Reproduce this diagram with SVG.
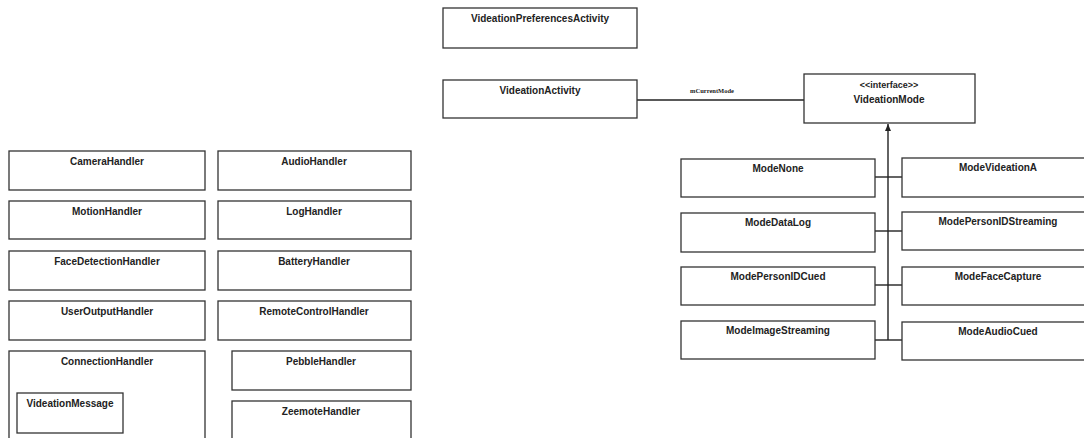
<svg xmlns="http://www.w3.org/2000/svg" width="1084" height="438" viewBox="0 0 1084 438">
<style>
.b{fill:#fff;stroke:#333;stroke-width:1.3}
.t{font-family:"Liberation Sans",Arial,sans-serif;font-weight:bold;font-size:10px;fill:#222;text-anchor:middle}
.s{font-size:9px}
.l{fill:none;stroke:#222;stroke-width:1.4}
.lb{font-family:"Liberation Serif","Times New Roman",serif;font-weight:bold;font-size:6.5px;fill:#222;text-anchor:middle}
</style>
<defs>
<marker id="ah" markerWidth="8" markerHeight="8" refX="7" refY="4" orient="auto" markerUnits="userSpaceOnUse">
<path d="M0,1 L7,4 L0,7 Z" fill="#222"/>
</marker>
</defs>
<rect width="1084" height="438" fill="#fff"/>
<g id="connectors">
<line class="l" x1="637" y1="100" x2="804" y2="100"/>
<text class="lb" x="712" y="93">mCurrentMode</text>
<line class="l" x1="888" y1="340" x2="888" y2="124" marker-end="url(#ah)"/>
<line class="l" x1="875" y1="177" x2="902" y2="177"/>
<line class="l" x1="875" y1="231" x2="902" y2="231"/>
<line class="l" x1="875" y1="285" x2="902" y2="285"/>
<line class="l" x1="875" y1="340" x2="902" y2="340"/>
</g>
<g id="VideationPreferencesActivity"><rect class="b" x="443" y="8" width="194" height="40"/><text class="t" x="540" y="22">VideationPreferencesActivity</text></g>
<g id="VideationActivity"><rect class="b" x="443" y="80" width="194" height="38"/><text class="t" x="540" y="94">VideationActivity</text></g>
<g id="VideationMode"><rect class="b" x="804" y="74" width="171" height="49"/><text class="t s" x="889" y="88">&lt;&lt;interface&gt;&gt;</text><text class="t" x="889" y="102.5">VideationMode</text></g>
<g id="CameraHandler"><rect class="b" x="9" y="151" width="196" height="39"/><text class="t" x="107" y="165">CameraHandler</text></g>
<g id="MotionHandler"><rect class="b" x="9" y="201" width="196" height="38"/><text class="t" x="107" y="215">MotionHandler</text></g>
<g id="FaceDetectionHandler"><rect class="b" x="9" y="251" width="196" height="39"/><text class="t" x="107" y="265">FaceDetectionHandler</text></g>
<g id="UserOutputHandler"><rect class="b" x="9" y="301" width="196" height="39"/><text class="t" x="107" y="315">UserOutputHandler</text></g>
<g id="ConnectionHandler"><rect class="b" x="9" y="351" width="196" height="100"/><text class="t" x="107" y="365">ConnectionHandler</text></g>
<g id="VideationMessage"><rect class="b" x="17" y="393" width="106" height="40"/><text class="t" x="70" y="407">VideationMessage</text></g>
<g id="AudioHandler"><rect class="b" x="218" y="151" width="193" height="39"/><text class="t" x="314" y="165">AudioHandler</text></g>
<g id="LogHandler"><rect class="b" x="218" y="201" width="193" height="38"/><text class="t" x="314" y="215">LogHandler</text></g>
<g id="BatteryHandler"><rect class="b" x="218" y="251" width="193" height="39"/><text class="t" x="314" y="265">BatteryHandler</text></g>
<g id="RemoteControlHandler"><rect class="b" x="218" y="301" width="193" height="39"/><text class="t" x="314" y="315">RemoteControlHandler</text></g>
<g id="PebbleHandler"><rect class="b" x="232" y="351" width="179" height="39"/><text class="t" x="321" y="365">PebbleHandler</text></g>
<g id="ZeemoteHandler"><rect class="b" x="232" y="401" width="179" height="50"/><text class="t" x="321" y="415">ZeemoteHandler</text></g>
<g id="ModeNone"><rect class="b" x="681" y="159" width="194" height="38"/><text class="t" x="778" y="172">ModeNone</text></g>
<g id="ModeDataLog"><rect class="b" x="681" y="213" width="194" height="39"/><text class="t" x="778" y="226">ModeDataLog</text></g>
<g id="ModePersonIDCued"><rect class="b" x="681" y="267" width="194" height="38"/><text class="t" x="778" y="280">ModePersonIDCued</text></g>
<g id="ModeImageStreaming"><rect class="b" x="681" y="321" width="194" height="38"/><text class="t" x="778" y="334">ModeImageStreaming</text></g>
<g id="ModeVideationA"><rect class="b" x="902" y="158" width="192" height="39"/><text class="t" x="998" y="171">ModeVideationA</text></g>
<g id="ModePersonIDStreaming"><rect class="b" x="902" y="212" width="192" height="38"/><text class="t" x="998" y="225">ModePersonIDStreaming</text></g>
<g id="ModeFaceCapture"><rect class="b" x="902" y="267" width="192" height="38"/><text class="t" x="998" y="280">ModeFaceCapture</text></g>
<g id="ModeAudioCued"><rect class="b" x="902" y="322" width="192" height="38"/><text class="t" x="998" y="335">ModeAudioCued</text></g>
</svg>
